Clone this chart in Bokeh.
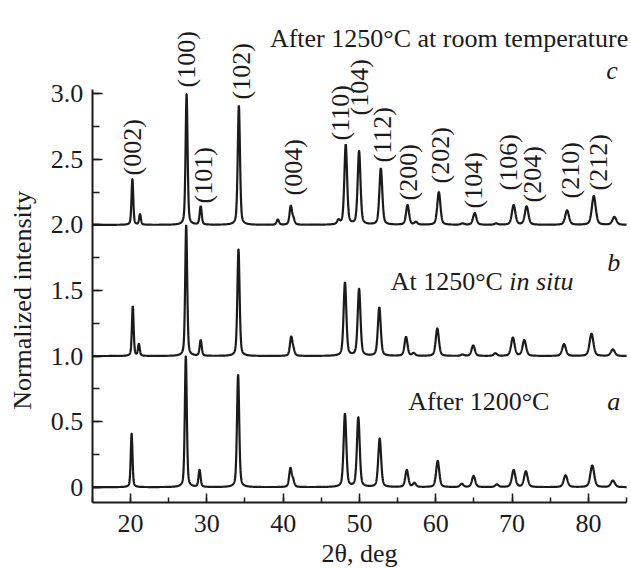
import numpy as np
from bokeh.plotting import figure
from bokeh.models import (Range1d, SingleIntervalTicker, Label, ColumnDataSource,
                          PrintfTickFormatter, LinearAxis)
from bokeh.embed import file_html
from bokeh.resources import INLINE
from bokeh.core.properties import value

# ---------------- data ----------------
# (a) After 1200 C  -- baseline offset 0
pos_a = [20.15, 27.25, 29.05, 34.10, 40.95, 41.30, 48.10, 49.85, 52.65, 56.20,
         57.20, 60.25, 63.40, 64.95, 68.00, 70.20, 71.80, 77.00, 80.50, 83.20]
hgt_a = [0.41, 1.00, 0.13, 0.86, 0.14, 0.05, 0.56, 0.53, 0.37, 0.13,
         0.03, 0.20, 0.025, 0.085, 0.02, 0.13, 0.12, 0.09, 0.165, 0.05]

# (b) At 1250 C in situ -- baseline offset 1
pos_b = [20.30, 21.10, 27.30, 29.20, 34.15, 41.05, 41.35, 48.10, 49.95, 52.60,
         56.10, 57.10, 60.20, 63.50, 64.90, 67.80, 70.10, 71.60, 76.80, 80.40, 83.20]
hgt_b = [0.38, 0.09, 1.00, 0.12, 0.815, 0.14, 0.04, 0.56, 0.51, 0.37,
         0.145, 0.02, 0.21, 0.01, 0.08, 0.02, 0.14, 0.12, 0.09, 0.17, 0.05]

# (c) After 1250 C at room temperature -- baseline offset 2
pos_c = [20.25, 21.25, 27.35, 29.20, 34.20, 39.30, 41.00, 41.35, 47.25, 48.20,
         49.95, 52.80, 56.30, 57.40, 60.40, 63.50, 65.10, 67.90, 70.20, 71.90,
         77.20, 80.70, 83.40]
hgt_c = [0.35, 0.08, 1.00, 0.14, 0.91, 0.04, 0.14, 0.04, 0.03, 0.61,
         0.56, 0.43, 0.15, 0.02, 0.25, 0.01, 0.09, 0.01, 0.15, 0.14,
         0.11, 0.22, 0.06]

offsets = [0.0, 1.0, 2.0]

# Miller-index labels of pattern c
hkl_text = ["(002)", "(100)", "(101)", "(102)", "(004)", "(110)", "(104)", "(112)",
            "(200)", "(202)", "(104)", "(106)", "(204)", "(210)", "(212)"]
hkl_x = [20.27, 27.34, 29.57, 34.49, 41.36, 47.52, 50.01, 53.02,
         56.43, 60.62, 64.94, 69.53, 72.67, 77.65, 81.32]
hkl_y = [2.377, 3.048, 2.163, 2.957, 2.224, 2.644, 2.834, 2.476,
         2.186, 2.316, 2.125, 2.263, 2.171, 2.202, 2.263]

# ---------------- rendering ----------------
FONT = "Liberation Serif"
INK = "#1b1b1b"
FS = "26px"
X0, X1 = 15.0, 85.0          # axis extent (deg)
Y0, Y1 = -0.117, 3.03        # axis extent (intensity)


def profile(x, pos, hgt):
    y = np.zeros_like(x)
    for p0, h in zip(pos, hgt):
        w = 0.27 + 0.0055 * (p0 - 20.0)
        d = (x - p0) / w
        y += h * (0.6 * np.exp(-4.0 * np.log(2.0) * d * d) + 0.4 / (1.0 + 4.0 * d * d))
    return y


grid = np.linspace(X0, X1, 3501)

# frame spans the whole canvas; axes are pinned inside it
p = figure(width=631, height=568, output_backend="svg", toolbar_location=None,
           x_range=Range1d(2.97, 85.64), y_range=Range1d(-0.62, 3.711),
           x_axis_location=None, y_axis_location=None,
           min_border=0)
p.outline_line_color = None
p.xgrid.visible = False
p.ygrid.visible = False
p.background_fill_color = "white"
p.border_fill_color = "white"

for pos, hgt, off in zip([pos_a, pos_b, pos_c], [hgt_a, hgt_b, hgt_c], offsets):
    src = ColumnDataSource(dict(x=grid, y=profile(grid, pos, hgt) + off))
    p.line("x", "y", source=src, line_color=INK, line_width=2.2)

xaxis = LinearAxis(fixed_location=Y0, bounds=(X0, X1),
                   ticker=SingleIntervalTicker(interval=10, num_minor_ticks=2))
yaxis = LinearAxis(fixed_location=X0, bounds=(Y0, Y1),
                   ticker=SingleIntervalTicker(interval=0.5, num_minor_ticks=2),
                   formatter=PrintfTickFormatter(format="%.1f"))
for ax in (xaxis, yaxis):
    ax.axis_line_color = INK
    ax.axis_line_width = 2
    ax.major_tick_line_color = INK
    ax.minor_tick_line_color = INK
    ax.major_tick_line_width = 1.5
    ax.minor_tick_line_width = 1.5
    ax.major_tick_out = 0
    ax.minor_tick_out = 0
    ax.major_label_text_font = FONT
    ax.major_label_text_font_size = FS
    ax.major_label_text_color = INK

xaxis.major_tick_in = 9
xaxis.minor_tick_in = 5
xaxis.major_label_standoff = 12
yaxis.major_tick_in = 10
yaxis.minor_tick_in = 7
yaxis.major_label_standoff = 9
yaxis.major_label_overrides = {0: "0"}
p.add_layout(xaxis, "below")
p.add_layout(yaxis, "left")

# hkl labels
p.text(x=hkl_x, y=hkl_y, text=hkl_text, angle=np.pi / 2,
       text_align="left", text_baseline="middle",
       text_font=value(FONT), text_font_size=FS, text_color=INK)


def lab(x, y, t, style="normal", align="left", baseline="alphabetic", angle=0.0):
    p.add_layout(Label(x=x, y=y, text=t, text_font=FONT, text_font_size=FS,
                       text_font_style=style, text_color=INK, text_align=align,
                       text_baseline=baseline, angle=angle))


# axis titles
lab(50.0, -0.506, "2θ, deg", align="center", baseline="middle")
lab(5.86, 1.424, "Normalized intensity", align="center", baseline="middle",
    angle=np.pi / 2)

# panel annotations
lab(85.22, 3.425, "After 1250°C at room temperature", align="right")
lab(82.34, 3.178, "c", style="italic")
lab(82.47, 1.71, "b", style="italic")
lab(68.8, 1.565, "At 1250°C", align="right")
lab(78.04, 1.565, "in situ", style="italic", align="right")
lab(56.4, 0.652, "After 1200°C")
lab(82.47, 0.652, "a", style="italic")

open("out.html", "w").write(file_html(p, INLINE))
